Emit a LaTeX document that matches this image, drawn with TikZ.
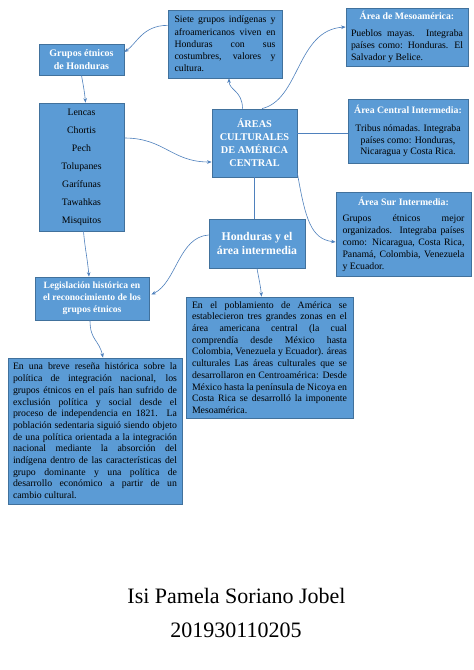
\documentclass[tikz,border=0pt]{standalone}
\usepackage{fontspec}
\setmainfont{Liberation Serif}
\usetikzlibrary{arrows.meta,calc}
\definecolor{boxfill}{RGB}{91,155,213}
\definecolor{boxborder}{RGB}{65,113,156}
\definecolor{linkcol}{RGB}{79,129,189}
\hbadness=10000
\hfuzz=20pt
\setlength{\parindent}{0pt}
\newcommand{\jl}[1]{\hbox to\hsize{#1}}
\newcommand{\lastl}[1]{\hbox{#1}}
\newcommand{\cl}[1]{\hbox to\hsize{\hfil#1\hfil}}
\newcommand{\ttl}[1]{\hbox to\hsize{\hfil\bfseries\color{white}#1\hfil}}
\newcommand{\btext}[2]{\vbox{\hsize=#1\relax #2}}
\tikzset{
  cbox/.style={draw=boxborder, fill=boxfill, line width=0.8pt, inner sep=0pt},
  titlebox/.style={cbox, text=white, align=center},
  link/.style={draw=linkcol, line width=0.6pt, -{Stealth[length=4.5pt,width=3.6pt]}},
  plainlink/.style={draw=linkcol, line width=0.6pt},
}
\begin{document}
\begin{tikzpicture}[x=1pt,y=-1pt]
\fill[white] (0,0) rectangle (474,670);
\useasboundingbox (0,0) rectangle (474,670);

% nodes
\node[titlebox, minimum width=85pt, minimum height=31pt, font={\fontsize{10}{12.5}\selectfont\bfseries}]
  (grupos) at (81.5,59.5) {Grupos étnicos\\de Honduras};

\node[cbox, minimum width=114pt, minimum height=68pt, font={\fontsize{9.8}{12.3}\selectfont}]
  (siete) at (225,44) {\btext{101pt}{%
    \jl{Siete grupos indígenas y}
    \jl{afroamericanos viven en}
    \jl{Honduras con sus}
    \jl{costumbres, valores y}
    \lastl{cultura.}}};

\node[cbox, minimum width=122pt, minimum height=58pt, font={\fontsize{9.8}{12.3}\selectfont}]
  (meso) at (407,37) {\btext{112pt}{%
    \ttl{Área de Mesoamérica:}\vskip4.5pt
    \jl{Pueblos mayas. Integraba}
    \jl{países como: Honduras. El}
    \lastl{Salvador y Belice.}}};

\node[cbox, align=center, minimum width=85pt, minimum height=128pt, font={\fontsize{9.8}{18}\selectfont}]
  (lencas) at (81.5,167) {Lencas\\Chortis\\Pech\\Tolupanes\\Garífunas\\Tawahkas\\Misquitos};

\node[titlebox, minimum width=85pt, minimum height=68pt, font={\fontsize{10.3}{13}\selectfont\bfseries}]
  (areas) at (254.5,143) {ÁREAS\\CULTURALES\\DE AMÉRICA\\CENTRAL};

\node[cbox, minimum width=120pt, minimum height=64pt, font={\fontsize{9.8}{11.4}\selectfont}]
  (central) at (408,131) {\btext{112pt}{%
    \ttl{Área Central Intermedia:}\vskip7pt
    \cl{Tribus nómadas. Integraba}
    \cl{países como: Honduras,}
    \cl{Nicaragua y Costa Rica.}}};

\node[cbox, minimum width=135pt, minimum height=84pt, font={\fontsize{9.8}{12}\selectfont}]
  (sur) at (403.5,234) {\btext{122pt}{%
    \ttl{Área Sur Intermedia:}\vskip4pt
    \jl{Grupos étnicos mejor}
    \jl{organizados. Integraba países}
    \jl{como: Nicaragua, Costa Rica,}
    \jl{Panamá, Colombia, Venezuela}
    \lastl{y Ecuador.}}};

\node[titlebox, minimum width=96pt, minimum height=49pt, font={\fontsize{11.8}{14.5}\selectfont\bfseries}]
  (honduras) at (257,243.5) {Honduras y el\\área intermedia};

\node[titlebox, minimum width=114pt, minimum height=43pt, font={\fontsize{9.6}{12}\selectfont\bfseries}]
  (legis) at (92,298.5) {Legislación histórica en\\el reconocimiento de los\\grupos étnicos};

\node[cbox, minimum width=167pt, minimum height=121pt, font={\fontsize{9.8}{11.7}\selectfont}]
  (pobl) at (269.5,357.5) {\btext{155pt}{%
    \jl{En el poblamiento de América se}
    \jl{establecieron tres grandes zonas en el}
    \jl{área americana central (la cual}
    \jl{comprendía desde México hasta}
    \jl{Colombia, Venezuela y Ecuador). áreas}
    \jl{culturales Las áreas culturales que se}
    \jl{desarrollaron en Centroamérica: Desde}
    \jl{México hasta la península de Nicoya en}
    \jl{Costa Rica se desarrolló la imponente}
    \lastl{Mesoamérica.}}};

\node[cbox, minimum width=174pt, minimum height=146pt, font={\fontsize{9.8}{11.7}\selectfont}]
  (resena) at (95,431) {\btext{164pt}{%
    \jl{En una breve reseña histórica sobre la}
    \jl{política de integración nacional, los}
    \jl{grupos étnicos en el país han sufrido de}
    \jl{exclusión política y social desde el}
    \jl{proceso de independencia en 1821. La}
    \jl{población sedentaria siguió siendo objeto}
    \jl{de una política orientada a la integración}
    \jl{nacional mediante la absorción del}
    \jl{indígena dentro de las características del}
    \jl{grupo dominante y una política de}
    \jl{desarrollo económico a partir de un}
    \lastl{cambio cultural.}}};

\node[anchor=base, font={\fontsize{22}{26}\selectfont}] (name) at (236.5,603) {Isi Pamela Soriano Jobel};
\node[anchor=base, font={\fontsize{22}{26}\selectfont}] (num) at (236,637) {201930110205};

% connectors
\draw[link] (siete.162) .. controls +(-25,0) and +(12,-8) .. (grupos.10);
\draw[link] (grupos.south) to[out=-80,in=95] ($(lencas.north)+(4,0)$);
\draw[link] ($(lencas.east)+(0,-29)$) .. controls +(40,0) and +(-40,0) .. ($(areas.west)+(0,19)$);
\draw[link] ($(areas.north)+(-12,0)$) .. controls +(0,-18) and +(0,12) .. ($(siete.south)+(4,0)$);
\draw[link] ($(areas.north)+(7.5,0)$) .. controls +(38,-9) and +(-49,3) .. ($(meso.west)+(0,-10)$);
\draw[plainlink] ($(areas.east)+(0,-10)$) -- ($(central.west)+(0,2)$);
\draw[link] ($(areas.south east)+(0,-4)$) .. controls +(8,45) and +(-25,-3) .. ($(sur.west)+(0,8)$);
\draw[plainlink] (areas.south) -- (areas.south |- honduras.north);
\draw[link] ($(honduras.west)+(0,-8.5)$) .. controls +(-30,2) and +(25,-12) .. ($(legis.east)+(2,-4)$);
\draw[link] ($(lencas.south)+(2,0)$) to[out=-85,in=95] ($(legis.north)+(-3,0)$);
\draw[link] ($(legis.south)+(-2,0)$) .. controls +(0,20) and +(-4,-18) .. ($(resena.north)+(8,0)$);
\draw[link] (honduras.south) to[out=-80,in=95] ($(pobl.north)+(-8,0)$);
\end{tikzpicture}
\end{document}
